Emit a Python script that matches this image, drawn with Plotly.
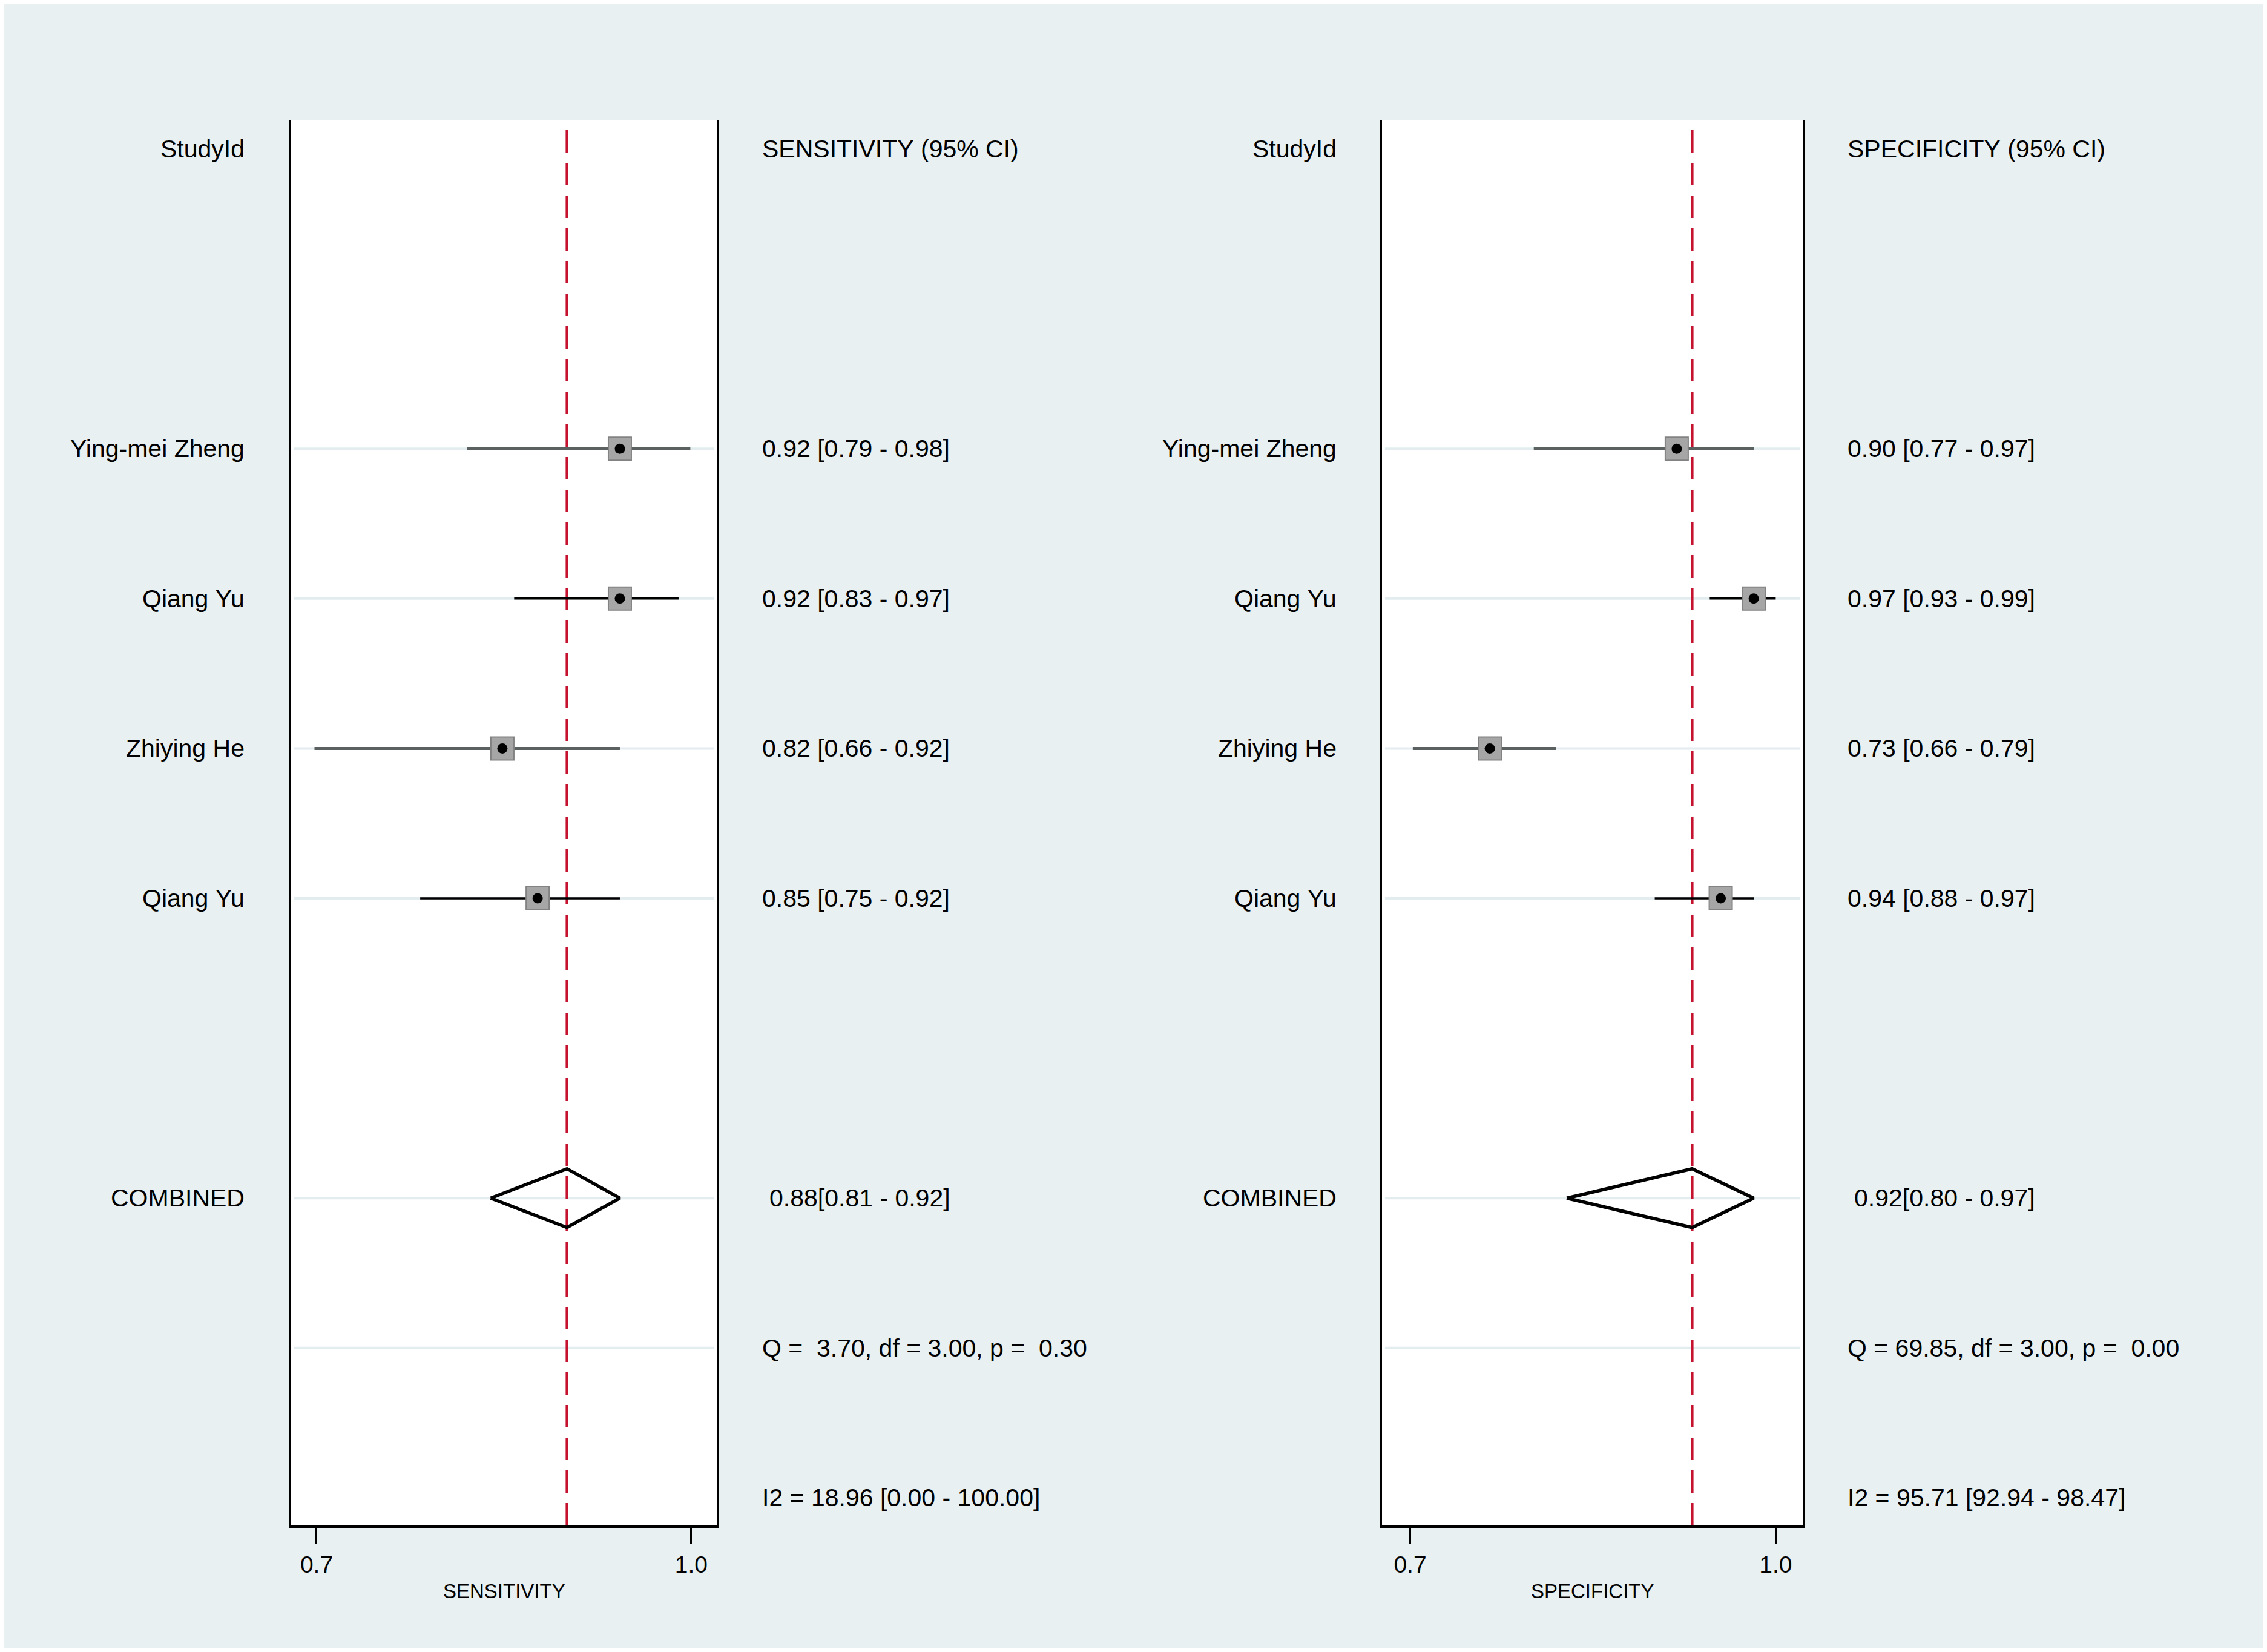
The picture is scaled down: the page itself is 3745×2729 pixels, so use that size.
import plotly.graph_objects as go

# Study data
studies = ["Ying-mei Zheng", "Qiang Yu", "Zhiying He", "Qiang Yu"]
study_rows = [2, 3, 4, 5]

sens = [0.92, 0.92, 0.82, 0.85]
sens_lo = [0.79, 0.83, 0.66, 0.75]
sens_hi = [0.98, 0.97, 0.92, 0.92]

spec = [0.90, 0.97, 0.73, 0.94]
spec_lo = [0.77, 0.93, 0.66, 0.88]
spec_hi = [0.97, 0.99, 0.79, 0.97]

# pooled estimates: label values and where the diamond apex / red line sit
sens_pooled = [0.88, 0.81, 0.92]
spec_pooled = [0.92, 0.80, 0.97]
sens_apex = 0.875
spec_apex = 0.914

# heterogeneity stats: Q, df, p, I2, I2 lo, I2 hi
sens_het = [3.70, 3.00, 0.30, 18.96, 0.00, 100.00]
spec_het = [69.85, 3.00, 0.00, 95.71, 92.94, 98.47]

# axis ticks as drawn (labels do not sit on the data scale)
sens_ticks = [0.6618, 0.9808]
spec_ticks = [0.6576, 0.9900]
tick_text = ["0.7", "1.0"]

combined_row = 7
q_row = 8
i2_row = 9

W, H = 3745, 2729
BG = "#e8f0f2"
FONT = "Liberation Sans, Arial, sans-serif"
RED = "#c4122f"


def px(x):
    return x / W


def py(y):
    return 1 - y / H


def nb(s):
    return s.replace(" ", "\u00a0")


fig = go.Figure()

panels = [
    dict(xa="x", ya="y", est=sens, lo=sens_lo, hi=sens_hi, pooled=sens_pooled,
         apex=sens_apex, het=sens_het),
    dict(xa="x2", ya="y2", est=spec, lo=spec_lo, hi=spec_hi, pooled=spec_pooled,
         apex=spec_apex, het=spec_het),
]

ci_colors = ["#5b6061", "black", "#5b6061", "black"]
ci_widths = [5, 3.5, 5, 3.5]
diamond_h = 0.196

shapes = []
for p in panels:
    # light row guides
    for r in study_rows + [combined_row, q_row]:
        shapes.append(dict(type="line", xref=p["xa"] + " domain", yref=p["ya"],
                           x0=0.007, x1=0.993, y0=r, y1=r,
                           line=dict(color="#e3ecef", width=4), layer="below"))
    # pooled reference line
    shapes.append(dict(type="line", xref=p["xa"], yref=p["ya"] + " domain",
                       x0=p["apex"], x1=p["apex"], y0=0, y1=1,
                       line=dict(color=RED, width=4.5, dash="37px,17px"), layer="below"))

    for i in range(len(studies)):
        fig.add_trace(go.Scatter(
            x=[p["lo"][i], p["hi"][i]], y=[study_rows[i], study_rows[i]],
            mode="lines", line=dict(color=ci_colors[i], width=ci_widths[i]),
            xaxis=p["xa"], yaxis=p["ya"], hoverinfo="skip"))
    fig.add_trace(go.Scatter(
        x=p["est"], y=study_rows, mode="markers",
        marker=dict(symbol="square", size=38, color="#a6a6a6",
                    line=dict(color="#828282", width=2)),
        xaxis=p["xa"], yaxis=p["ya"]))
    fig.add_trace(go.Scatter(
        x=p["est"], y=study_rows, mode="markers",
        marker=dict(symbol="circle", size=17, color="black"),
        xaxis=p["xa"], yaxis=p["ya"]))
    # pooled diamond
    lo, hi = p["pooled"][1], p["pooled"][2]
    fig.add_trace(go.Scatter(
        x=[lo, p["apex"], hi, p["apex"], lo],
        y=[combined_row, combined_row - diamond_h, combined_row,
           combined_row + diamond_h, combined_row],
        mode="lines", line=dict(color="black", width=5.5),
        xaxis=p["xa"], yaxis=p["ya"]))

# text columns
annotations = []


def txt(text, x, row, yref, anchor):
    annotations.append(dict(text=nb(text), x=x, y=row, xref="paper", yref=yref,
                            xanchor=anchor, yanchor="middle", showarrow=False,
                            font=dict(family=FONT, size=41, color="black")))


label_x = [406, 2210]
stat_x = [1257, 3050]
comb_x = [1269, 3061]
headers = ["SENSITIVITY (95% CI)", "SPECIFICITY (95% CI)"]
for k, p in enumerate(panels):
    ya = p["ya"]
    txt("StudyId", px(label_x[k]), 0, ya, "right")
    txt(headers[k], px(stat_x[k]), 0, ya, "left")
    for i, s in enumerate(studies):
        txt(s, px(label_x[k]), study_rows[i], ya, "right")
        txt(f"{p['est'][i]:.2f} [{p['lo'][i]:.2f} - {p['hi'][i]:.2f}]",
            px(stat_x[k]), study_rows[i], ya, "left")
    txt("COMBINED", px(label_x[k]), combined_row, ya, "right")
    pl = p["pooled"]
    txt(f"{pl[0]:.2f}[{pl[1]:.2f} - {pl[2]:.2f}]", px(comb_x[k]), combined_row, ya, "left")
    h = p["het"]
    txt(f"Q = {h[0]:5.2f}, df = {h[1]:.2f}, p = {h[2]:5.2f}", px(stat_x[k]), q_row, ya, "left")
    txt(f"I2 = {h[3]:.2f} [{h[4]:.2f} - {h[5]:.2f}]", px(stat_x[k]), i2_row, ya, "left")

for name, cx in [("SENSITIVITY", 832.5), ("SPECIFICITY", 2631)]:
    annotations.append(dict(text=name, x=px(cx), y=py(2628), xref="paper", yref="paper",
                            xanchor="center", yanchor="middle", showarrow=False,
                            font=dict(family=FONT, size=33, color="black")))

shapes.append(dict(type="rect", xref="paper", yref="paper", x0=0, x1=1, y0=0, y1=1,
                   line=dict(color="white", width=12), layer="above"))

xcommon = dict(ticks="outside", ticklen=27, tickwidth=3, tickcolor="black",
               showline=True, linewidth=4, linecolor="black", showgrid=False,
               zeroline=False, tickfont=dict(family=FONT, size=39, color="black"),
               ticktext=tick_text, fixedrange=True)
ycommon = dict(domain=[py(2520), py(199)], range=[9.184, -0.19], showline=True,
               mirror=True, linewidth=3, linecolor="black", showticklabels=False,
               ticks="", showgrid=False, zeroline=False, fixedrange=True)

fig.update_layout(
    width=W, height=H,
    margin=dict(l=0, r=0, t=0, b=0),
    paper_bgcolor=BG, plot_bgcolor="white",
    showlegend=False,
    xaxis=dict(domain=[px(480.5), px(1185)], range=[0.6399, 1.0030],
               tickvals=sens_ticks, anchor="y", **xcommon),
    yaxis=dict(anchor="x", **ycommon),
    xaxis2=dict(domain=[px(2283), px(2979)], range=[0.632, 1.0151],
                tickvals=spec_ticks, anchor="y2", **xcommon),
    yaxis2=dict(anchor="x2", **ycommon),
    shapes=shapes,
    annotations=annotations,
)

fig.write_html("out.html", config={"displayModeBar": False},
               post_script="document.body.style.margin='0';")
